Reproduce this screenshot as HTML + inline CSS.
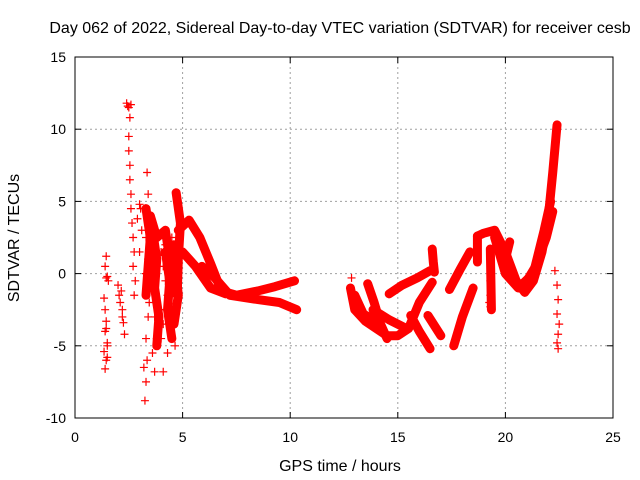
<!DOCTYPE html>
<html><head><meta charset="utf-8"><style>
body{margin:0;background:#fff}
svg{display:block;font-family:"Liberation Sans",sans-serif}
</style></head><body>
<svg id="c" width="640" height="480">
<rect width="640" height="480" fill="#fff"/>
<text x="340" y="33" text-anchor="middle" font-size="16">Day 062 of 2022, Sidereal Day-to-day VTEC variation (SDTVAR) for receiver cesb</text>
<text x="340" y="471" text-anchor="middle" font-size="16">GPS time / hours</text>
<text transform="translate(19,238) rotate(-90)" text-anchor="middle" font-size="16">SDTVAR / TECUs</text>
<g id="grid"></g><g id="marks"></g><g id="axes"></g>
</svg>
<script>
const xTicks=[0,5,10,15,20,25];
const yTicks=[-10,-5,0,5,10,15];
const trackHours=[
[4.8,5.3,5.8,6.3,6.8,7.5,8.5,9.3,10.2],
[5.9,6.5,7.2,8.5,9.5,10.3],
[5.0,5.6,6.3,7.0],
[4.7,4.9,4.8,4.75],
[3.5,3.8,4.2,4.4],
[3.6,3.8,3.7,3.9,3.8],
[4.2,4.4,4.3,4.5],
[4.6,4.7,4.8,4.6],
[3.3,3.5,3.4,3.3],
[12.8,13.0,13.5,14.0,14.5,15.0,15.5,16.0,16.6],
[13.6,13.9,14.2,14.5],
[14.6,15.2,15.9,16.5],
[15.6,16.0,16.5],
[13.85,14.6,15.4],
[13.0,13.4,13.9,14.3],
[16.6,16.65,16.7],
[16.4,16.7,17.0],
[17.6,18.0,18.5],
[17.4,17.9,18.35],
[18.7,19.0,19.5,20.0,20.5,20.9,21.3,21.7,22.0,22.2,22.4],
[19.5,20.0,20.6,21.3,21.8,22.1],
[20.8,21.4,21.9,22.2],
[18.7,18.7],
[19.3,19.35],
[20.2,20.0]
];
const trackValues=[
[3.0,3.7,2.5,0.7,-1.2,-1.5,-1.2,-0.9,-0.5],
[0.5,-0.3,-1.5,-1.8,-2.0,-2.5],
[1.5,0.5,-1.0,-1.4],
[5.6,3.5,1.0,-1.5],
[4.0,2.5,3.0,1.0],
[3.0,1.0,-1.0,-3.0,-5.0],
[1.5,-0.5,-2.5,-4.5],
[2.0,0.0,-1.5,-3.5],
[4.5,2.5,0.5,-1.5],
[-1.0,-2.5,-3.3,-3.8,-4.3,-4.3,-3.8,-2.0,-0.6],
[-0.7,-2.0,-3.5,-4.5],
[-1.4,-0.8,-0.3,0.2],
[-2.9,-4.0,-5.2],
[-2.5,-3.2,-3.8],
[-1.5,-2.8,-3.2,-4.0],
[1.7,0.8,0.1],
[-2.9,-3.6,-4.3],
[-5.0,-3.0,-1.0],
[-1.1,0.3,1.5],
[2.6,2.8,3.0,1.5,-0.5,-1.3,-0.5,1.5,4.0,7.0,10.3],
[2.5,0.0,-1.0,0.0,3.0,5.0],
[-1.0,0.5,2.5,4.3],
[2.6,0.8],
[1.7,-2.5],
[2.2,1.0]
];
const sparseHours=[
[1.45,1.4,1.45,1.5,1.35,1.4,1.45,1.4,1.5,1.35,1.45,1.4,1.5,1.45,1.55,1.5],
[2.0,2.05,2.1,2.2,2.25,2.3,2.2,2.15],
[2.4,2.5,2.55,2.5,2.5,2.55,2.55,2.6,2.6,2.65,2.7,2.75,2.7,2.8,2.75,2.45,2.6],
[3.35,3.4,3.5,3.3,3.4,3.5,3.4,3.3,3.35,3.3,3.25,3.45,3.2,3.3],
[3.6,3.7,3.8,3.75,3.7,3.8,3.6,3.7,3.9,3.6],
[4.0,4.1,4.2,4.3,4.2,4.1,4.0,4.3,4.4,4.2,4.1],
[4.5,4.6,4.55,4.6,4.7,4.5,4.6,4.65],
[2.9,3.0,3.1,3.0,3.05],
[12.85,13.0,22.3,22.4,22.45,22.4,22.5,22.45,22.4,22.45],
[19.3,19.35,19.3,19.25,19.3]
];
const sparseValues=[
[1.2,0.5,-0.3,-0.2,-1.7,-2.5,-3.3,-4.0,-4.8,-5.4,-6.0,-6.6,-5.0,-3.8,-0.5,-5.8],
[-0.8,-1.5,-2.0,-3.0,-3.4,-4.2,-2.5,-1.2],
[11.8,11.5,10.8,9.5,8.5,7.5,6.5,5.5,4.5,3.5,2.5,1.5,0.5,-0.5,-1.5,11.6,11.7],
[7.0,5.5,4.0,2.5,1.0,-1.0,-3.0,-4.5,-6.0,-7.5,-8.8,-2.0,-6.5,0.0],
[3.5,2.0,0.5,-1.5,-3.0,-4.5,-5.5,-6.8,-2.5,1.0],
[1.5,0.5,-0.5,-1.5,-2.5,-3.5,-4.5,-5.5,-1.0,2.0,-6.8],
[2.5,1.5,0.5,-0.5,-1.5,-2.5,-3.5,-5.0],
[3.8,4.8,3.0,1.5,4.5],
[-0.3,-2.0,0.2,-0.8,-1.8,-2.8,-3.5,-4.2,-4.8,-5.2],
[-0.5,-1.0,-1.5,-2.0,-2.3]
];
const NS='http://www.w3.org/2000/svg';
const L=75,R=613,T=57,B=418;
const xs=v=>L+(v-0)/25*(R-L);
const ys=v=>B-(v+10)/25*(B-T);
const grid=document.getElementById('grid'),marks=document.getElementById('marks'),axes=document.getElementById('axes');
function mk(tag,attrs,parent){const e=document.createElementNS(NS,tag);for(const k in attrs)e.setAttribute(k,attrs[k]);parent.appendChild(e);return e;}
xTicks.forEach(t=>{
 const x=xs(t);
 if(t>0&&t<25){const g=mk('line',{x1:x,x2:x,y1:T,y2:B,stroke:'#a0a0a0','stroke-dasharray':'2,3'},grid);
 
 }
 const tk=mk('line',{x1:x,x2:x,y1:B,y2:B-6,stroke:'#000'},axes);
 
 
 const tk2=mk('line',{x1:x,x2:x,y1:T,y2:T+6,stroke:'#000'},axes);
 
 
 const lb=mk('text',{x:x,y:B+24,'text-anchor':'middle','font-size':14},axes);lb.textContent=t;
 
 
});
yTicks.forEach(t=>{
 const y=ys(t);
 if(t>-10&&t<15){const g=mk('line',{x1:L,x2:R,y1:y,y2:y,stroke:'#a0a0a0','stroke-dasharray':'2,3'},grid);
 
 }
 const tk=mk('line',{x1:L,x2:L+6,y1:y,y2:y,stroke:'#000'},axes);
 
 
 const tk2=mk('line',{x1:R,x2:R-6,y1:y,y2:y,stroke:'#000'},axes);
 
 
 const lb=mk('text',{x:L-9,y:y+5,'text-anchor':'end','font-size':14},axes);lb.textContent=t;
 
 
});
const fr=mk('rect',{x:L,y:T,width:R-L,height:B-T,fill:'none',stroke:'#000'},axes);


function plus(x,y){
 const p=mk('path',{d:`M${x-4},${y}h8M${x},${y-4}v8`,stroke:'#f00','stroke-width':1.2},marks);
 
 
}
trackHours.forEach((hs,i)=>{
 const vs=trackValues[i];
 const pts=hs.map((h,j)=>xs(h)+','+ys(vs[j])).join(' ');
 const pl=mk('polyline',{points:pts,fill:'none',stroke:'#f00','stroke-width':9,'stroke-linejoin':'round','stroke-linecap':'round'},marks);
 
 
 hs.forEach((h,j)=>plus(xs(h),ys(vs[j])));
});
sparseHours.forEach((hs,i)=>{
 const vs=sparseValues[i];
 hs.forEach((h,j)=>plus(xs(h),ys(vs[j])));
});
</script>
</body></html>
